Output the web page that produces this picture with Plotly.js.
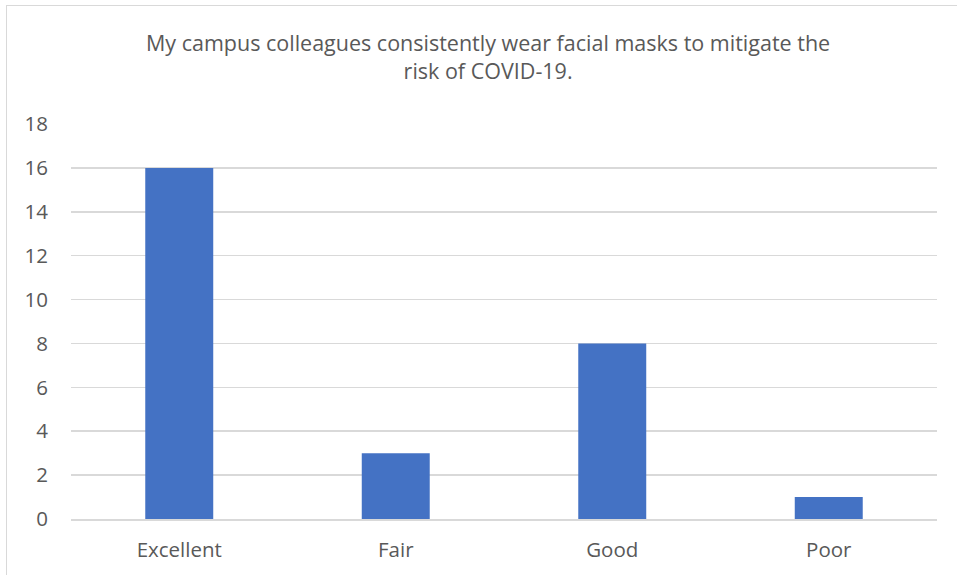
<!DOCTYPE html>
<html>
<head>
<meta charset="utf-8">
<script src="https://cdn.plot.ly/plotly-3.0.1.min.js"></script>
<style>
html,body{margin:0;padding:0;background:#fff;overflow:hidden;}
#chart{width:957px;height:575px;}
#frame{position:absolute;left:6px;top:5px;width:980px;height:600px;border:1.5px solid #d9d9d9;pointer-events:none;}
</style>
</head>
<body>
<div id="chart"></div>
<div id="frame"></div>
<script>
const categories = ["Excellent", "Fair", "Good", "Poor"];
const counts = [16, 3, 8, 1];
const yTicks = [0, 2, 4, 6, 8, 10, 12, 14, 16, 18];
const titleText = "My campus colleagues consistently wear facial masks to mitigate the<br>risk of COVID-19.";

const font = "'Open Sans', sans-serif";
const trace = {
  type: "bar",
  x: categories,
  y: counts,
  marker: {color: "#4472C4"},
  hoverinfo: "x+y"
};
const layout = {
  width: 957, height: 575,
  margin: {l: 71, r: 20, t: 124, b: 56},
  paper_bgcolor: "#fff", plot_bgcolor: "#fff",
  bargap: 0.686,
  showlegend: false,
  font: {family: font, color: "#595959", size: 20},
  title: {
    text: titleText,
    font: {family: font, size: 21.5, color: "#595959"},
    x: 0.51, xanchor: "center", xref: "container",
    y: 0.912, yanchor: "top", yref: "container"
  },
  xaxis: {
    type: "category",
    showgrid: false, zeroline: false,
    showline: true, linecolor: "#d9d9d9", linewidth: 1.5,
    ticks: "", ticklabelstandoff: 12,
    tickfont: {family: font, size: 20.5, color: "#595959"}
  },
  yaxis: {
    range: [0, 18],
    tickvals: yTicks,
    ticktext: yTicks.map(String),
    showgrid: true, gridcolor: "#d9d9d9", gridwidth: 1.5,
    zeroline: false, showline: false,
    ticks: "", ticklabelstandoff: 22,
    tickfont: {family: font, size: 20.5, color: "#595959"}
  }
};
Plotly.newPlot("chart", [trace], layout, {staticPlot: true, displayModeBar: false});
</script>
</body>
</html>
